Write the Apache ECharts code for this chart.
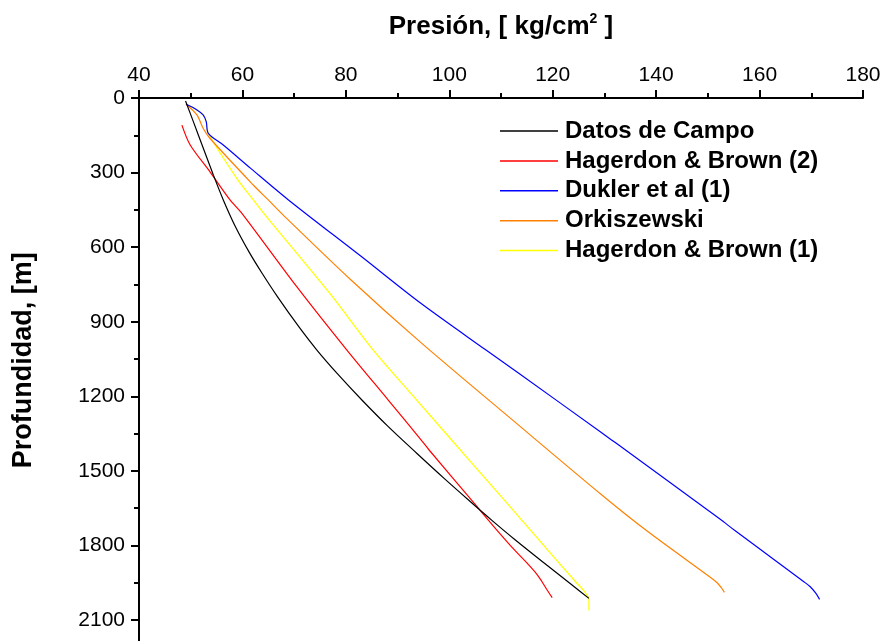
<!DOCTYPE html>
<html>
<head>
<meta charset="utf-8">
<script src="https://cdn.jsdelivr.net/npm/echarts@6/dist/echarts.min.js"></script>
<style>
html,body{margin:0;padding:0;background:#fff;}
#chart{width:881px;height:641px;}
</style>
</head>
<body>
<div id="chart"></div>
<script>
// Axis ticks
const xTicks = [40, 60, 80, 100, 120, 140, 160, 180];
const yTicks = [0, 300, 600, 900, 1200, 1500, 1800, 2100];

// Series names
const seriesNames = ['Datos de Campo', 'Hagerdon & Brown (2)', 'Dukler et al (1)', 'Orkiszewski', 'Hagerdon & Brown (1)'];

// Datos de Campo: pressure [kg/cm2] vs depth [m]
const campoP = [49.0, 50.6, 52.2, 54.2, 56.3, 58.7, 61.3, 63.8, 66.8, 70.9, 74.4, 78.4, 83.1, 88.1, 93.7, 99.0, 104.1, 108.3, 112.6, 118.9, 123.8, 127.0];
const campoD = [12, 100, 189, 300, 410, 520, 620, 705, 800, 920, 1014, 1110, 1215, 1320, 1429, 1530, 1624, 1700, 1775, 1880, 1960, 2013];

// Hagerdon & Brown (2)
const hb2P = [48.3, 49.9, 53.7, 57.6, 59.9, 70.5, 80.2, 88.2, 94.3, 96.1, 104.8, 109.2, 112.6, 115.0, 116.8, 117.9, 118.8, 119.9];
const hb2D = [109, 189, 296, 410, 464, 759, 1014, 1215, 1369, 1416, 1630, 1738, 1818, 1870, 1912, 1945, 1975, 2010];

// Dukler et al (1)
const duklerP = [49.1, 51.0, 52.4, 53.0, 53.4, 56.3, 61.6, 68.9, 83.0, 94.3, 107.1, 113.5, 129.6, 132.3, 152.4, 155.1, 168.5, 169.8, 170.9, 171.6];
const duklerD = [25, 45, 68, 95, 142, 189, 283, 410, 638, 823, 1014, 1108, 1349, 1389, 1695, 1738, 1945, 1966, 1993, 2017];

// Orkiszewski
const orkP = [49.1, 51.2, 52.4, 53.7, 62.1, 65.0, 67.9, 81.0, 94.3, 113.0, 129.5, 138.0, 150.6, 151.8, 152.6, 153.2];
const orkD = [25, 68, 122, 162, 350, 410, 471, 732, 980, 1309, 1597, 1738, 1930, 1950, 1970, 1989];

// Hagerdon & Brown (1)
const hb1P = [49.1, 51.0, 52.4, 53.0, 53.4, 58.9, 62.1, 64.4, 76.9, 85.3, 93.7, 104.4, 115.7, 119.0, 124.6, 125.9, 126.6, 127.0, 127.0];
const hb1D = [25, 45, 68, 95, 142, 323, 410, 471, 786, 1014, 1215, 1470, 1738, 1818, 1950, 1979, 2000, 2013, 2062];

const seriesColors = ['#000000', '#ff0000', '#0000ff', '#ff8000', '#ffff00'];

function pairs(p, d) { return p.map((v, i) => [v, d[i]]); }
const seriesData = [
  pairs(campoP, campoD),
  pairs(hb2P, hb2D),
  pairs(duklerP, duklerD),
  pairs(orkP, orkD),
  pairs(hb1P, hb1D)
];

const FONT = 'Liberation Sans, Arial, sans-serif';
const chart = echarts.init(document.getElementById('chart'));
chart.setOption({
  backgroundColor: '#ffffff',
  animation: false,
  textStyle: { fontFamily: FONT },
  grid: { left: 139, width: 724, top: 98, height: 596.6, containLabel: false, outerBoundsMode: 'none' },
  legend: {
    orient: 'vertical',
    left: 500,
    top: 119,
    padding: 0,
    itemWidth: 58,
    itemHeight: 1.5,
    itemGap: 5.9,
    icon: 'rect',
    data: seriesNames,
    textStyle: { fontFamily: FONT, fontSize: 24, fontWeight: 'bold', color: '#000', lineHeight: 24, padding: [0, 0, 0, 2] }
  },
  xAxis: {
    type: 'value',
    position: 'top',
    min: xTicks[0],
    max: xTicks[xTicks.length - 1],
    interval: xTicks[1] - xTicks[0],
    name: '{b|Presión, [ kg/cm}{s|2}{b| ]}',
    nameLocation: 'middle',
    nameGap: 56,
    nameTextStyle: {
      rich: {
        b: { fontFamily: FONT, fontSize: 26, fontWeight: 'bold', color: '#000', lineHeight: 30 },
        s: { fontFamily: FONT, fontSize: 14, fontWeight: 'bold', color: '#000', verticalAlign: 'top', lineHeight: 16 }
      }
    },
    axisLine: { show: true, lineStyle: { color: '#000', width: 2 } },
    axisTick: { show: true, inside: false, length: 8, lineStyle: { color: '#000', width: 2 } },
    minorTick: { show: true, splitNumber: 2, length: 5, lineStyle: { color: '#000', width: 2 } },
    splitLine: { show: false },
    axisLabel: { fontFamily: FONT, fontSize: 21, color: '#000', margin: 12 }
  },
  yAxis: {
    type: 'value',
    inverse: true,
    min: yTicks[0],
    max: 2400,
    interval: yTicks[1] - yTicks[0],
    name: 'Profundidad, [m]',
    nameLocation: 'middle',
    nameRotate: 90,
    nameGap: 100,
    nameTextStyle: { fontFamily: FONT, fontSize: 27, fontWeight: 'bold', color: '#000', lineHeight: 30, padding: [0, 0, 0, 72] },
    axisLine: { show: true, onZero: false, lineStyle: { color: '#000', width: 2 } },
    axisTick: { show: true, inside: false, length: 8, lineStyle: { color: '#000', width: 2 } },
    minorTick: { show: true, splitNumber: 2, length: 5, lineStyle: { color: '#000', width: 2 } },
    splitLine: { show: false },
    axisLabel: { fontFamily: FONT, fontSize: 21, color: '#000', margin: 14, formatter: (v) => String(v) }
  },
  series: seriesNames.map((n, i) => ({
    name: n,
    type: 'line',
    data: seriesData[i],
    showSymbol: false,
    symbol: 'none',
    smooth: 0.3,
    color: seriesColors[i],
    lineStyle: { color: seriesColors[i], width: 1.2 },
    z: 10 - i
  }))
});
</script>
</body>
</html>
